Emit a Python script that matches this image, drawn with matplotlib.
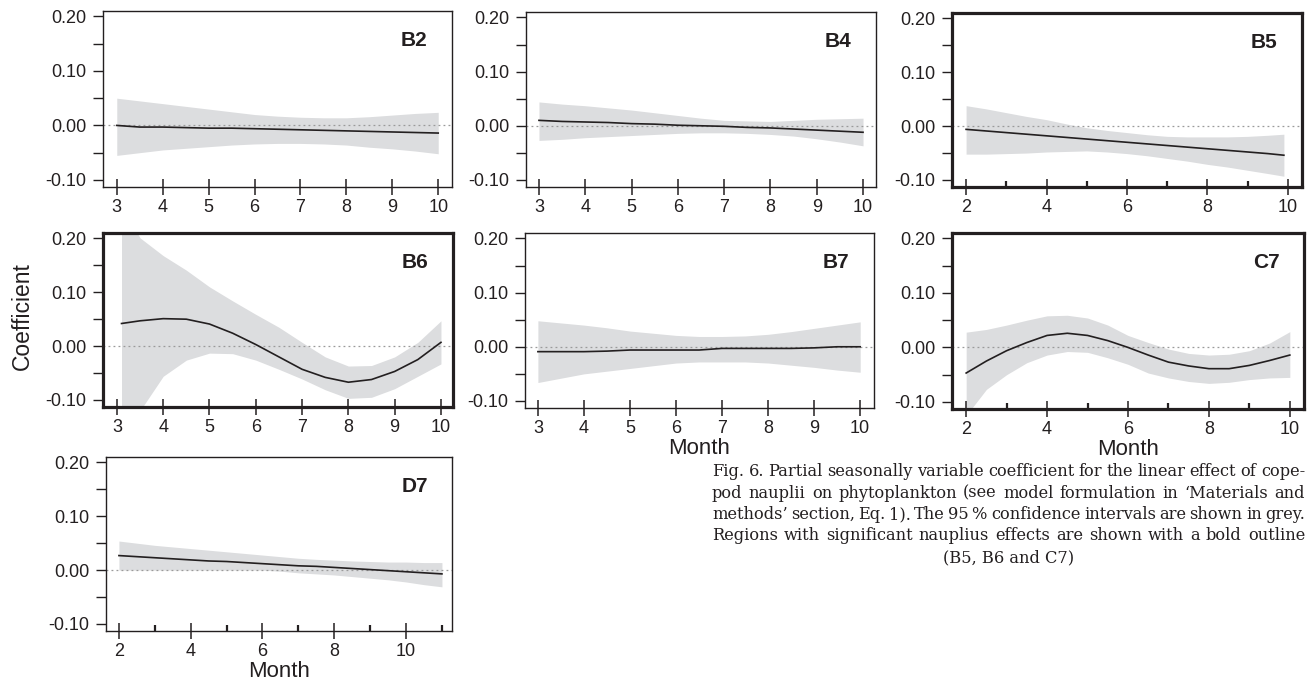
import numpy as np
import matplotlib
matplotlib.use('Agg')
import matplotlib.pyplot as plt
from matplotlib.ticker import FixedLocator, MultipleLocator

FIG_W, FIG_H, DPI = 1315, 688, 100

plt.rcParams['font.family'] = ['Liberation Sans', 'DejaVu Sans']
plt.rcParams['axes.unicode_minus'] = False

INK = '#231f20'
BAND = '#dcdddf'

# ---- data (month, fitted coefficient, 95% CI) ----
b2_month = [3, 3.5, 4, 4.5, 5, 5.5, 6, 6.5, 7, 7.5, 8, 8.5, 9, 9.5, 10]
b2_fit = [0.000, -0.003, -0.003, -0.004, -0.005, -0.005, -0.006, -0.007, -0.008, -0.009, -0.010, -0.011, -0.012, -0.013, -0.014]
b2_hi = [0.050, 0.045, 0.040, 0.035, 0.030, 0.025, 0.020, 0.017, 0.015, 0.014, 0.014, 0.016, 0.019, 0.022, 0.024]
b2_lo = [-0.055, -0.050, -0.045, -0.042, -0.039, -0.036, -0.034, -0.033, -0.033, -0.034, -0.036, -0.040, -0.043, -0.047, -0.052]

b4_month = [3, 3.5, 4, 4.5, 5, 5.5, 6, 6.5, 7, 7.5, 8, 8.5, 9, 9.5, 10]
b4_fit = [0.010, 0.008, 0.007, 0.006, 0.004, 0.003, 0.001, 0.000, -0.001, -0.003, -0.004, -0.006, -0.008, -0.010, -0.012]
b4_hi = [0.044, 0.040, 0.037, 0.033, 0.029, 0.024, 0.019, 0.014, 0.010, 0.009, 0.008, 0.010, 0.012, 0.013, 0.014]
b4_lo = [-0.027, -0.025, -0.022, -0.020, -0.018, -0.016, -0.014, -0.013, -0.013, -0.014, -0.016, -0.019, -0.024, -0.030, -0.037]

b5_month = [2, 2.5, 3, 3.5, 4, 4.5, 5, 5.5, 6, 6.5, 7, 7.5, 8, 8.5, 9, 9.5, 9.9]
b5_fit = [-0.006, -0.009, -0.012, -0.015, -0.018, -0.021, -0.024, -0.027, -0.030, -0.033, -0.036, -0.039, -0.042, -0.045, -0.048, -0.051, -0.054]
b5_hi = [0.038, 0.032, 0.025, 0.018, 0.012, 0.004, -0.003, -0.008, -0.012, -0.016, -0.019, -0.020, -0.020, -0.020, -0.019, -0.017, -0.015]
b5_lo = [-0.052, -0.052, -0.051, -0.050, -0.048, -0.047, -0.046, -0.048, -0.051, -0.055, -0.060, -0.065, -0.071, -0.076, -0.082, -0.088, -0.093]

b6_month = [3.1, 3.5, 4, 4.5, 5, 5.5, 6, 6.5, 7, 7.5, 8, 8.5, 9, 9.5, 10]
b6_fit = [0.042, 0.047, 0.051, 0.050, 0.041, 0.024, 0.003, -0.020, -0.043, -0.058, -0.067, -0.062, -0.047, -0.025, 0.007]
b6_hi = [0.260, 0.201, 0.168, 0.141, 0.110, 0.084, 0.059, 0.035, 0.007, -0.020, -0.037, -0.036, -0.020, 0.007, 0.047]
b6_lo = [-0.170, -0.120, -0.056, -0.026, -0.013, -0.014, -0.026, -0.043, -0.061, -0.081, -0.097, -0.095, -0.079, -0.056, -0.033]

b7_month = [3, 3.5, 4, 4.5, 5, 5.5, 6, 6.5, 7, 7.5, 8, 8.5, 9, 9.5, 10]
b7_fit = [-0.009, -0.009, -0.009, -0.008, -0.006, -0.006, -0.006, -0.006, -0.003, -0.003, -0.003, -0.003, -0.002, 0.000, 0.000]
b7_hi = [0.048, 0.044, 0.040, 0.035, 0.029, 0.025, 0.021, 0.019, 0.019, 0.020, 0.023, 0.028, 0.034, 0.040, 0.046]
b7_lo = [-0.066, -0.058, -0.050, -0.045, -0.040, -0.035, -0.030, -0.028, -0.028, -0.028, -0.030, -0.034, -0.038, -0.043, -0.047]

c7_month = [2, 2.5, 3, 3.5, 4, 4.5, 5, 5.5, 6, 6.5, 7, 7.5, 8, 8.5, 9, 9.5, 10]
c7_fit = [-0.047, -0.025, -0.006, 0.009, 0.022, 0.026, 0.022, 0.0125, 0.000, -0.014, -0.027, -0.034, -0.039, -0.039, -0.033, -0.024, -0.014]
c7_hi = [0.028, 0.033, 0.041, 0.050, 0.058, 0.059, 0.054, 0.041, 0.022, 0.009, -0.003, -0.011, -0.014, -0.0125, -0.006, 0.008, 0.029]
c7_lo = [-0.125, -0.077, -0.050, -0.028, -0.014, -0.0075, -0.009, -0.019, -0.031, -0.047, -0.056, -0.0625, -0.066, -0.064, -0.059, -0.056, -0.055]

d7_month = [2, 2.5, 3, 3.5, 4, 4.5, 5, 5.5, 6, 6.5, 7, 7.5, 8, 8.5, 9, 9.5, 10, 10.5, 11]
d7_fit = [0.027, 0.025, 0.023, 0.021, 0.019, 0.017, 0.016, 0.014, 0.012, 0.010, 0.008, 0.007, 0.005, 0.003, 0.001, -0.001, -0.003, -0.005, -0.007]
d7_hi = [0.054, 0.050, 0.046, 0.043, 0.040, 0.037, 0.034, 0.031, 0.028, 0.025, 0.022, 0.020, 0.0185, 0.017, 0.016, 0.015, 0.015, 0.014, 0.014]
d7_lo = [0.000, 0.000, 0.000, 0.000, 0.000, 0.000, 0.000, 0.000, 0.000, -0.002, -0.005, -0.007, -0.009, -0.012, -0.015, -0.018, -0.022, -0.027, -0.031]

y_ticks = [-0.1, 0.0, 0.1, 0.2]
y_tick_labels = ['-0.10', '0.00', '0.10', '0.20']

caption_lines = [
    'Fig. 6. Partial seasonally variable coefficient for the linear effect of cope-',
    'pod nauplii on phytoplankton (see model formulation in \u2018Materials and',
    'methods\u2019 section, Eq. 1). The 95\u2009% confidence intervals are shown in grey.',
    'Regions with significant nauplius effects are shown with a bold outline',
]
caption_last = '(B5, B6 and C7)'


def add_panel(fig, box, month, fit, lo, hi, name, xlim, bold=False, every_other=False, xlabel=False):
    left, top, right, bottom = box
    ax = fig.add_axes([left / FIG_W, 1 - bottom / FIG_H,
                       (right - left) / FIG_W, (bottom - top) / FIG_H])
    ax.fill_between(month, lo, hi, color=BAND, lw=0, zorder=1)
    ax.axhline(0, color='#9a9a9a', lw=0.9, ls=(0, (1.5, 2.5)), zorder=2)
    ax.plot(month, fit, color=INK, lw=1.2, zorder=3)
    ax.set_xlim(*xlim)
    ax.set_ylim(-0.113, 0.21)

    ax.yaxis.set_major_locator(FixedLocator(y_ticks))
    ax.yaxis.set_minor_locator(FixedLocator([-0.05, 0.05, 0.15]))
    ax.set_yticklabels(y_tick_labels)
    ax.tick_params(axis='y', which='both', direction='out', length=7, width=1.0,
                   color=INK, labelsize=13, pad=5, labelcolor=INK)

    if every_other:
        ax.xaxis.set_major_locator(MultipleLocator(2))
        ax.xaxis.set_minor_locator(MultipleLocator(1))
        ax.tick_params(axis='x', which='minor', direction='in', length=4, width=1.6, color=INK)
    else:
        ax.xaxis.set_major_locator(MultipleLocator(1))
    ax.tick_params(axis='x', which='major', direction='inout', length=11, width=1.1,
                   color=INK, labelsize=13, pad=3, labelcolor=INK)

    lw = 2.3 if bold else 1.0
    for sp in ax.spines.values():
        sp.set_linewidth(lw)
        sp.set_color(INK)

    ax.text(0.93, 0.83, name, transform=ax.transAxes, ha='right', va='center',
            fontsize=15, fontweight='bold', color=INK)
    if xlabel:
        ax.set_xlabel('Month', fontsize=16, labelpad=1, color=INK)
    return ax


def draw_caption(fig, left, right, baselines):
    renderer = fig.canvas.get_renderer()
    width = right - left
    family = ['DejaVu Serif']

    def text_width(s, size):
        t = fig.text(0, 0, s, fontsize=size, family=family)
        w = t.get_window_extent(renderer).width
        t.remove()
        return w

    # size chosen so the densest line still keeps a narrow word gap
    em10 = 10 * DPI / 72
    need = []
    for line in caption_lines:
        words = line.split(' ')
        need.append(sum(text_width(w, 10) for w in words) + 0.2 * em10 * (len(words) - 1))
    size = 10 * width / max(need)

    for line, base in zip(caption_lines, baselines):
        words = line.split(' ')
        widths = [text_width(w, size) for w in words]
        gap = (width - sum(widths)) / (len(words) - 1)
        x = left
        for w, wpx in zip(words, widths):
            fig.text(x / FIG_W, 1 - base / FIG_H, w, fontsize=size, family=family,
                     ha='left', va='baseline', color=INK)
            x += wpx + gap
    fig.text((left + right) / 2 / FIG_W, 1 - baselines[-1] / FIG_H, caption_last,
             fontsize=size, family=family, ha='center', va='baseline', color=INK)


def main():
    fig = plt.figure(figsize=(FIG_W / DPI, FIG_H / DPI), dpi=DPI)

    add_panel(fig, (103, 11, 452, 187), b2_month, b2_fit, b2_lo, b2_hi, 'B2', (2.7, 10.3))
    add_panel(fig, (526, 12, 876, 187), b4_month, b4_fit, b4_lo, b4_hi, 'B4', (2.72, 10.28))
    add_panel(fig, (952, 13, 1302, 187), b5_month, b5_fit, b5_lo, b5_hi, 'B5', (1.65, 10.35),
              bold=True, every_other=True)
    add_panel(fig, (103, 233, 453, 407), b6_month, b6_fit, b6_lo, b6_hi, 'B6', (2.7, 10.26),
              bold=True)
    add_panel(fig, (525, 233, 874, 408), b7_month, b7_fit, b7_lo, b7_hi, 'B7', (2.72, 10.3),
              xlabel=True)
    add_panel(fig, (952, 233, 1304, 409), c7_month, c7_fit, c7_lo, c7_hi, 'C7', (1.65, 10.35),
              bold=True, every_other=True, xlabel=True)
    add_panel(fig, (106, 457, 452, 631), d7_month, d7_fit, d7_lo, d7_hi, 'D7', (1.64, 11.28),
              every_other=True, xlabel=True)

    fig.text(22 / FIG_W, 1 - 316 / FIG_H, 'Coefficient', rotation=90, ha='center', va='center',
             fontsize=16.5, color=INK)

    draw_caption(fig, 712, 1305, [476, 497.5, 519, 540.5, 562])

    fig.savefig('out.png', dpi=DPI)


if __name__ == '__main__':
    main()
